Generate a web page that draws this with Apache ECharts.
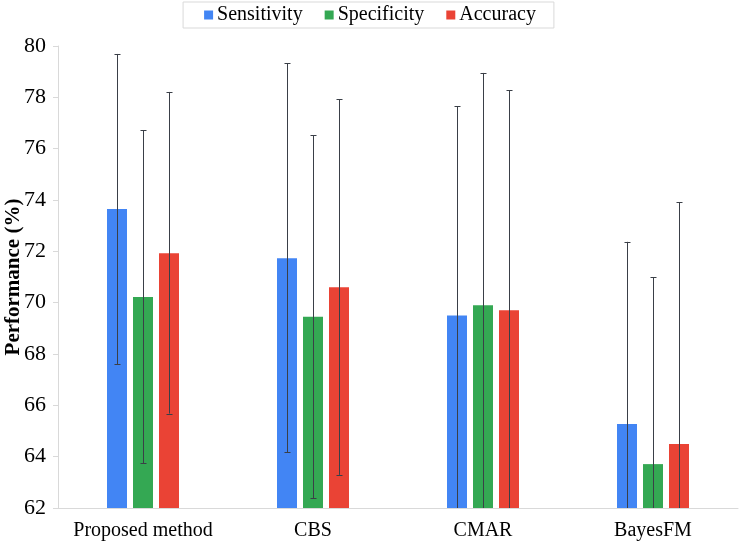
<!DOCTYPE html>
<html>
<head>
<meta charset="utf-8">
<script src="https://cdn.jsdelivr.net/npm/echarts@6/dist/echarts.min.js"></script>
<style>html,body{margin:0;padding:0;background:#fff}#c{width:740px;height:542px}</style>
</head>
<body>
<div id="c"></div>
<script>
var categories = ['Proposed method', 'CBS', 'CMAR', 'BayesFM'];
var seriesNames = ['Sensitivity', 'Specificity', 'Accuracy'];
var sensitivity = [73.65, 71.73, 69.50, 65.27];
var sensitivityUpper = [79.69, 79.33, 77.66, 72.37];
var sensitivityLower = [67.61, 64.18, 61.34, 58.17];
var specificity = [70.22, 69.45, 69.90, 63.71];
var specificityUpper = [76.72, 76.53, 78.95, 71.00];
var specificityLower = [63.75, 62.39, 60.85, 56.42];
var accuracy = [71.93, 70.60, 69.70, 64.49];
var accuracyUpper = [78.21, 77.93, 78.28, 73.92];
var accuracyLower = [65.68, 63.29, 61.12, 55.06];
var yTicks = [62, 64, 66, 68, 70, 72, 74, 76, 78, 80];

var colors = ['#4285F4', '#34A853', '#EA4335'];
var values = [sensitivity, specificity, accuracy];
var uppers = [sensitivityUpper, specificityUpper, accuracyUpper];
var lowers = [sensitivityLower, specificityLower, accuracyLower];
var font = 'Liberation Serif';
var BAR_W = 20, BAR_GAP = 0.3;

var series = [];
values.forEach(function (v, i) {
  series.push({
    name: seriesNames[i], type: 'bar', data: v, barWidth: BAR_W, barGap: (BAR_GAP * 100) + '%',
    itemStyle: { color: colors[i] }, z: 2
  });
});
values.forEach(function (v, i) {
  var data = categories.map(function (c, k) { return [k, lowers[i][k], uppers[i][k]]; });
  series.push({
    type: 'custom', name: seriesNames[i], data: data, z: 5, clip: true, silent: true,
    encode: { x: 0, y: [1, 2] },
    renderItem: function (params, api) {
      var k = api.value(0);
      var off = (i - 1) * BAR_W * (1 + BAR_GAP);
      var hi = api.coord([k, api.value(2)]);
      var lo = api.coord([k, api.value(1)]);
      var x = Math.round(hi[0] + off) + 0.5;
      var cw = 3;
      var st = { stroke: '#3a3f47', lineWidth: 1 };
      return {
        type: 'group',
        children: [
          { type: 'line', shape: { x1: x, y1: hi[1], x2: x, y2: lo[1] }, style: st },
          { type: 'line', shape: { x1: x - cw, y1: Math.round(hi[1]) + 0.5, x2: x + cw, y2: Math.round(hi[1]) + 0.5 }, style: st },
          { type: 'line', shape: { x1: x - cw, y1: Math.round(lo[1]) + 0.5, x2: x + cw, y2: Math.round(lo[1]) + 0.5 }, style: st }
        ]
      };
    }
  });
});

var chart = echarts.init(document.getElementById('c'), null, { renderer: 'canvas' });
chart.setOption({
  animation: false,
  textStyle: { fontFamily: font, color: '#000' },
  legend: {
    data: seriesNames.map(function (n, i) { return { name: n, itemStyle: { color: colors[i] } }; }),
    top: 2, left: 'center',
    itemWidth: 9, itemHeight: 9, itemGap: 22,
    icon: 'rect',
    borderColor: '#d9d9d9', borderWidth: 1, padding: [3, 18, 3, 21],
    textStyle: { fontFamily: font, fontSize: 20, color: '#000', padding: [0, 0, 0, -1] }
  },
  grid: { left: 58, right: 2, top: 46, bottom: 34, containLabel: false, outerBoundsMode: 'none' },
  xAxis: {
    type: 'category', data: categories,
    axisLine: { lineStyle: { color: '#d9d9d9' } },
    axisTick: { show: false },
    axisLabel: { fontFamily: font, fontSize: 20, color: '#000', margin: 13, interval: 0, hideOverlap: false }
  },
  yAxis: {
    type: 'value', min: yTicks[0], max: yTicks[yTicks.length - 1], interval: yTicks[1] - yTicks[0],
    name: 'Performance (%)', nameLocation: 'middle', nameGap: 34, nameMoveOverlap: false,
    nameTextStyle: { fontFamily: font, fontSize: 21, fontWeight: 'bold', color: '#000' },
    axisLine: { show: true, lineStyle: { color: '#d9d9d9' } },
    axisTick: { show: true, length: 5, lineStyle: { color: '#d9d9d9' } },
    splitLine: { show: false },
    axisLabel: { fontFamily: font, fontSize: 22, color: '#000', margin: 12 }
  },
  series: series
});
</script>
</body>
</html>
